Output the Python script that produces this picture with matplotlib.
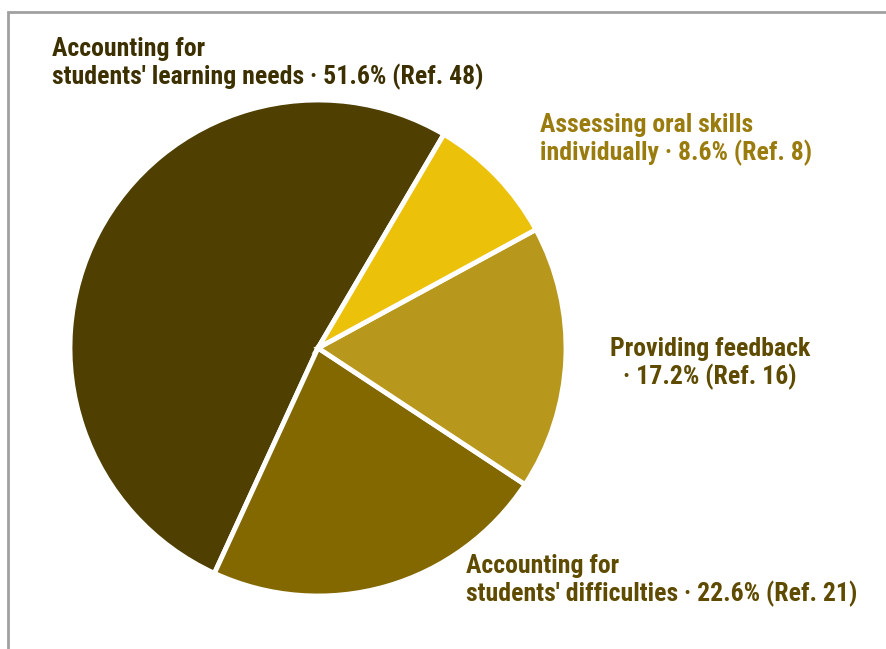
import matplotlib

matplotlib.use("Agg")
import matplotlib.pyplot as plt  # noqa: E402
from matplotlib.patches import Rectangle  # noqa: E402

# slice order as drawn, counter-clockwise from the upper-right boundary
CATEGORIES = [
    "Accounting for\nstudents' learning needs",
    "Accounting for\nstudents' difficulties",
    "Providing feedback\n",
    "Assessing oral skills\nindividually",
]
REFS = [48, 21, 16, 8]
SLICE_COLORS = ["#4f3f00", "#836800", "#b8971d", "#ecc109"]
LABEL_COLORS = ["#3d3000", "#5e4b00", "#5e4b00", "#9a7b0e"]

# label anchor (pixels from top-left) and alignment
LABEL_POS = [(52, 37, "left"), (466, 554, "left"), (710, 337, "center"), (540, 113, "left")]

W, H = 886, 649
plt.rcParams["font.family"] = ["Roboto Condensed", "DejaVu Sans"]

fig = plt.figure(figsize=(W / 100, H / 100), dpi=100)
fig.patch.set_facecolor("white")

# thin grey frame, only top and left edges visible in the crop
fig.patches.append(Rectangle((8 / W, -0.1), 1.2, 1.1 - 12 / H, transform=fig.transFigure,
                             fill=False, edgecolor="#a0a0a0", linewidth=2))

cx, cy, r = 318, 348, 248
ax = fig.add_axes([(cx - r) / W, (H - cy - r) / H, 2 * r / W, 2 * r / H])
ax.pie(REFS, colors=SLICE_COLORS, startangle=59.5, counterclock=True, radius=1.0,
       wedgeprops=dict(edgecolor="white", linewidth=3.5))
ax.set_xlim(-1.0, 1.0)
ax.set_ylim(-1.0, 1.0)
ax.set_aspect("equal")
ax.axis("off")

total = sum(REFS)
for cat, ref, col, (px, py, ha) in zip(CATEGORIES, REFS, LABEL_COLORS, LABEL_POS, strict=True):
    pct = 100 * ref / total
    first, second = cat.split("\n")
    tail = f"· {pct:.1f}% (Ref. {ref})"
    text = f"{first}\n{second} {tail}" if second else f"{first}\n{tail}"
    fig.text(px / W, 1 - py / H, text, ha=ha, va="top", multialignment=ha,
             fontsize=18.5, fontweight="bold", color=col, linespacing=1.12)

fig.savefig("out.png", dpi=100)
